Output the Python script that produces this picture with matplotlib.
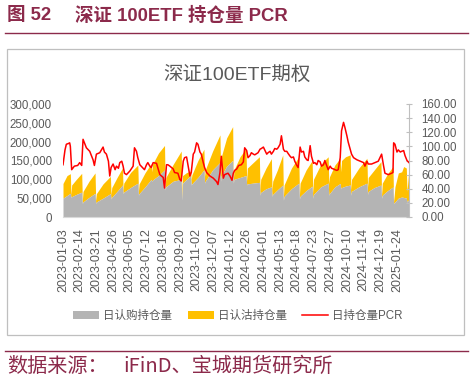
import matplotlib
matplotlib.use("Agg")
import matplotlib.pyplot as plt
from matplotlib.patches import Rectangle, Patch
from matplotlib.lines import Line2D

plt.rcParams['font.family'] = ['Liberation Sans', 'Noto Sans CJK SC', 'DejaVu Sans']

# ---------------- data ----------------
tick_labels = ["2023-01-03", "2023-02-14", "2023-03-21", "2023-04-26", "2023-06-05",
               "2023-07-12", "2023-08-16", "2023-09-20", "2023-11-02", "2023-12-07",
               "2024-01-12", "2024-02-26", "2024-04-01", "2024-05-13", "2024-06-18",
               "2024-07-23", "2024-08-27", "2024-10-10", "2024-11-14", "2024-12-19",
               "2025-01-24"]
n_days = 519  # trading days in the series

# vertices (trading-day index) of the open-interest areas
area_days = [0, 6, 11,
             12, 13, 20, 28,
             29, 30, 39, 48,
             49, 50, 60, 71,
             72, 73, 81, 89,
             90, 91, 101, 112,
             113, 114, 123, 132,
             133, 134, 143, 152,
             153, 154, 165, 177,
             178, 179, 185, 191,
             192, 193, 202, 211,
             212, 213, 224, 235,
             236, 237, 245, 254,
             255, 256, 265, 274,
             275, 276, 285, 294,
             295, 296, 304, 312,
             313, 314, 321, 329,
             330, 331, 342, 353,
             354, 355, 364, 373,
             374, 375, 386, 397,
             398, 399, 407, 415,
             416, 417, 423, 430,
             431, 432, 443, 455,
             456, 457, 466, 476,
             477, 478, 486, 494,
             495, 497, 502, 507, 510, 514,
             515, 517, 518]
call_oi = [50, 57, 63,
           52, 54, 60, 66,
           36, 40, 52, 63,
           36, 40, 50, 62,
           48, 52, 68, 85,
           62, 66, 78, 90,
           58, 62, 80, 100,
           95, 98, 110, 125,
           72, 80, 95, 100,
           45, 90, 100, 110,
           85, 88, 105, 125,
           90, 95, 125, 145,
           95, 110, 135, 150,
           90, 100, 105, 110,
           85, 88, 90, 92,
           58, 65, 75, 80,
           55, 60, 72, 85,
           45, 55, 75, 90,
           48, 55, 70, 82,
           50, 60, 80, 90,
           58, 62, 80, 89,
           75, 78, 82, 85,
           58, 68, 80, 90,
           60, 68, 78, 85,
           50, 58, 70, 80,
           36, 40, 50, 53, 52, 50,
           40, 45, 45]
put_oi = [39, 53, 52,
          6, 31, 40, 50,
          9, 28, 43, 54,
          6, 22, 38, 46,
          10, 26, 37, 45,
          10, 24, 40, 48,
          12, 26, 38, 42,
          25, 42, 60, 65,
          13, 25, 45, 75,
          13, 20, 18, 12,
          15, 24, 45, 55,
          18, 30, 50, 73,
          15, 50, 75, 90,
          8, 25, 55, 72,
          10, 42, 55, 68,
          14, 35, 55, 75,
          15, 35, 53, 80,
          10, 30, 55, 70,
          12, 35, 55, 68,
          12, 40, 60, 70,
          31, 45, 58, 67,
          45, 72, 78, 80,
          14, 32, 50, 66,
          20, 37, 47, 62,
          8, 32, 45, 54,
          4, 40, 67, 67, 82, 80,
          28, 65, 67]

pcr_days = [0, 3, 5, 8, 10, 11, 13, 17, 22, 25, 28, 30, 35, 40, 45, 47, 50, 55, 60, 62,
            65, 68, 70, 72, 75, 78, 80, 83, 85, 88, 90, 92, 95, 100, 105, 107, 110, 112,
            115, 117, 120, 122, 125, 127, 130, 132, 135, 140, 145, 150, 152, 155, 157,
            160, 165, 167, 172, 175, 177, 180, 182, 185, 187, 190, 192, 195, 197, 200,
            202, 205, 207, 210, 212, 215, 220, 225, 230, 232, 235, 237, 240, 242, 247,
            250, 253, 255, 257, 260, 263, 267, 270, 272, 275, 277, 280, 282, 285, 287,
            292, 295, 297, 300, 302, 305, 307, 310, 312, 315, 317, 320, 322, 325, 327,
            330, 332, 335, 337, 340, 342, 345, 347, 350, 352, 355, 357, 360, 362, 365,
            367, 370, 372, 375, 377, 380, 382, 385, 387, 390, 392, 395, 397, 400, 402,
            405, 407, 410, 412, 415, 417, 420, 422, 425, 427, 430, 432, 435, 440, 445,
            450, 452, 455, 457, 462, 467, 472, 477, 480, 482, 487, 492, 494, 495, 497,
            500, 502, 505, 507, 510, 512, 515, 518]
pcr = [74, 95, 103, 104, 105, 100, 67, 72, 73, 77, 73, 110, 98, 93, 81, 73, 89, 91, 99, 92,
       89, 79, 58, 70, 75, 67, 72, 69, 77, 79, 72, 62, 60, 65, 72, 98, 93, 84,
       74, 72, 69, 67, 74, 77, 72, 70, 77, 76, 60, 56, 41, 74, 74,
       72, 68, 63, 62, 53, 51, 79, 84, 85, 74, 58, 63, 89, 92, 105,
       103, 92, 89, 77, 70, 63, 58, 55, 50, 46, 63, 86, 55, 60, 62,
       58, 52, 62, 66, 68, 73, 74, 78, 98, 94, 84, 87, 91, 89, 88,
       91, 96, 97, 99, 95, 89, 91, 93, 89, 93, 97, 96, 98, 103, 115,
       96, 93, 93, 90, 86, 84, 85, 79, 73, 70, 99, 92, 93, 85, 81,
       80, 101, 86, 76, 77, 74, 80, 78, 72, 74, 80, 72, 67, 72, 69,
       68, 67, 66, 67, 84, 122, 134, 127, 115, 106, 96, 89, 84, 81, 79,
       77, 72, 79, 75, 75, 77, 79, 89, 72, 62, 60, 62, 63, 105, 103,
       92, 95, 92, 93, 94, 87, 80, 77]

# ---------------- figure ----------------
W, H = 474, 382
fig = plt.figure(figsize=(W / 100, H / 100), dpi=100)


def fx(px):
    return px / W


def fy(py):
    return 1 - py / H


maroon = '#8C2A4B'
txt_gray = '#595959'

# header
fig.text(fx(7), fy(16), "图 52", fontsize=13.3, fontweight='bold', color=maroon,
         va='center', ha='left')
fig.text(fx(75), fy(16), "深证 100ETF 持仓量 PCR", fontsize=13.3, fontweight='bold',
         color=maroon, va='center', ha='left')
fig.add_artist(Line2D([fx(5), fx(468)], [fy(32.5), fy(32.5)], color=maroon, lw=1.0))

# chart frame
fig.add_artist(Rectangle((fx(7), fy(335)), fx(464) - fx(7), fy(49) - fy(335),
                         fill=False, edgecolor='#BFBFBF', lw=0.9))

# footer
fig.add_artist(Line2D([fx(5), fx(468)], [fy(351), fy(351)], color=maroon, lw=1.0))
fig.text(fx(7), fy(366), "数据来源：", fontsize=14.5, color=maroon, va='center', ha='left',
         family=['Noto Sans CJK SC'])
fig.text(fx(123), fy(366), "iFinD、宝城期货研究所", fontsize=14.5, color=maroon,
         va='center', ha='left', family=['Noto Sans CJK SC'])

# chart title
fig.text(fx(237), fy(75), "深证100ETF期权", fontsize=14, color=txt_gray,
         va='center', ha='center')

# axes
ax = fig.add_axes([fx(63), fy(217), (409 - 63) / W, (217 - 104) / H])
ax.set_xlim(0, n_days - 1)
ax.set_ylim(0, 300000)

call_v = [v * 1000 for v in call_oi]
top_v = [(c + p) * 1000 for c, p in zip(call_oi, put_oi)]
ax.fill_between(area_days, 0, call_v, color='#B4B4B4', lw=0, zorder=2)
ax.fill_between(area_days, call_v, top_v, color='#FFC000', lw=0, zorder=1)

ax.set_yticks(range(0, 300001, 50000))
ax.set_yticklabels([f"{v:,}" for v in range(0, 300001, 50000)])
ax.set_xticks(range(0, 25 * len(tick_labels), 25))
ax.set_xticklabels(tick_labels, rotation=90)
ax.tick_params(axis='y', length=0, pad=8, labelsize=8.3, labelcolor=txt_gray)
ax.tick_params(axis='x', length=0, pad=8, labelsize=9, labelcolor=txt_gray)
for s in ['left', 'right', 'top']:
    ax.spines[s].set_visible(False)
ax.spines['bottom'].set_color('#D9D9D9')
ax.spines['bottom'].set_linewidth(0.8)

ax2 = ax.twinx()
ax2.set_ylim(0, 160)
ax2.plot(pcr_days, pcr, color='#FF0000', lw=1.1)
ax2.set_yticks(range(0, 161, 20))
ax2.set_yticklabels([f"{v:.2f}" for v in range(0, 161, 20)])
ax2.tick_params(axis='y', direction='inout', length=4, width=0.8, color='#BFBFBF',
                pad=7, labelsize=8.3, labelcolor=txt_gray)
for s in ['left', 'top', 'bottom']:
    ax2.spines[s].set_visible(False)
ax2.spines['right'].set_color('#BFBFBF')
ax2.spines['right'].set_linewidth(0.8)

# legend
handles = [Patch(facecolor='#B4B4B4', edgecolor='none'),
           Patch(facecolor='#FFC000', edgecolor='none'),
           Line2D([], [], color='#FF0000', lw=1.1)]
labels = ["日认购持仓量", "日认沽持仓量", "日持仓量PCR"]
leg = fig.legend(handles, labels, loc='center', bbox_to_anchor=(fx(238), fy(316)),
                 ncol=3, frameon=False, fontsize=8.3, handlelength=2.25,
                 handleheight=0.6, handletextpad=0.35, columnspacing=1.35)
for t in leg.get_texts():
    t.set_color(txt_gray)

fig.savefig("out.png", dpi=100)
